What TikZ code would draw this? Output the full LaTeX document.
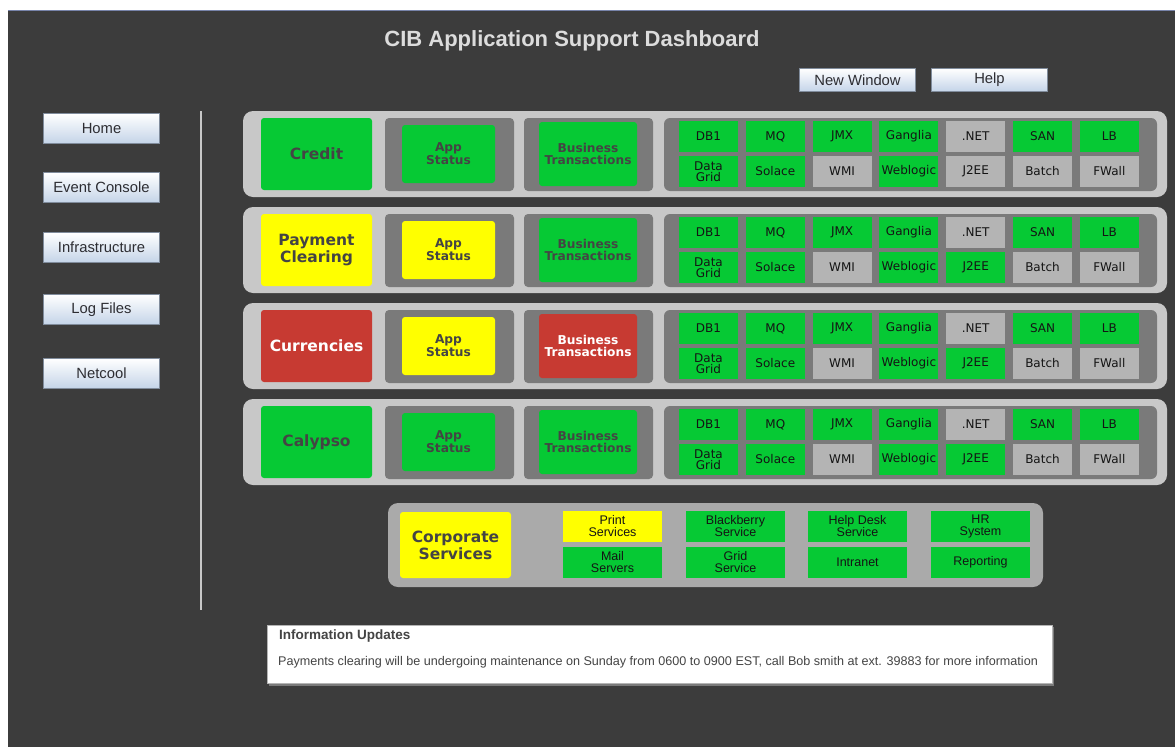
\documentclass[tikz,border=0pt]{standalone}
\usepackage{fontspec}
\setmainfont{Liberation Sans}
\newfontfamily\dv{DejaVu Sans}
\definecolor{bg}{RGB}{60,60,60}
\definecolor{gr}{RGB}{6,201,52}
\definecolor{yl}{RGB}{255,255,0}
\definecolor{rd}{RGB}{199,58,50}
\definecolor{lg}{RGB}{180,180,180}
\definecolor{rowout}{RGB}{200,200,200}
\definecolor{corpout}{RGB}{170,170,170}
\definecolor{cont}{RGB}{122,122,122}
\definecolor{labtext}{RGB}{68,68,68}
\definecolor{celltext}{RGB}{20,20,20}
\definecolor{btnblue}{RGB}{196,212,232}
\definecolor{btnborder}{RGB}{128,140,156}
\definecolor{btntext}{RGB}{45,45,50}
\definecolor{titletext}{RGB}{220,220,220}
\definecolor{topline}{RGB}{120,132,170}
\newcommand\labfont{\dv\bfseries\fontsize{15.5}{17}\selectfont}
\newcommand\smfont{\dv\bfseries\fontsize{12.2}{12.8}\selectfont}
\newcommand\cellfont{\dv\fontsize{12}{11.5}\selectfont}
\newcommand\corpfont{\fontsize{12.5}{12}\selectfont}
\newcommand\btnfont{\fontsize{14.8}{16}\selectfont}
\tikzset{
 box/.style={anchor=north west, inner sep=0pt, outer sep=0pt, rounded corners=3pt, align=center},
 cell/.style={box, rounded corners=0pt, minimum width=59pt, minimum height=31pt, font=\cellfont, text=celltext},
 ccell/.style={box, rounded corners=0pt, minimum width=99pt, minimum height=31pt, font=\corpfont, text=celltext},
 btn/.style={anchor=north west, inner sep=0pt, minimum width=116pt, draw=btnborder, line width=1pt, top color=white, bottom color=btnblue, font=\btnfont, text=btntext},
}
\newcommand\dashrow[9]{%
\begin{scope}[shift={(0,#2)}]
\node[box, fill=rowout, rounded corners=10pt, minimum width=924pt, minimum height=86pt] (#1-row) at (243,0) {};
\node[box, fill=#3, text=#4, font=\labfont, minimum width=111pt, minimum height=72pt] (#1) at (261,7) {#5};
\node[box, fill=cont, rounded corners=4pt, minimum width=129pt, minimum height=73pt] (#1-appc) at (385,7) {};
\node[box, fill=#6, text=#7, font=\smfont, minimum width=93pt, minimum height=58pt] (#1-app) at (402,14) {App\\Status};
\node[box, fill=cont, rounded corners=4pt, minimum width=129pt, minimum height=73pt] (#1-btc) at (524,7) {};
\node[box, fill=#8, text=#9, font=\smfont, minimum width=98pt, minimum height=64pt] (#1-bt) at (539,11) {Business\\Transactions};
\node[box, fill=cont, rounded corners=6pt, minimum width=493pt, minimum height=73pt] (#1-mc) at (664,7) {};
\foreach \i/\t/\c in {0/DB1/gr,1/MQ/gr,2/JMX/gr,3/Ganglia/gr,4/.NET/lg,5/SAN/gr,6/LB/gr}
  \node[cell, fill=\c] (#1-t\i) at ({679+\i*66.8},10) {\t};
\foreach \i/\t/\c in {0/{Data\\Grid}/gr,1/Solace/gr,2/WMI/lg,3/Weblogic/gr,4/J2EE/\jcol,5/Batch/lg,6/FWall/lg}
  \node[cell, fill=\c] (#1-b\i) at ({679+\i*66.8},45) {\t};
\end{scope}}
\begin{document}
\begin{tikzpicture}[x=1pt,y=-1pt]
\useasboundingbox (0,0) rectangle (1175,747);
\fill[white] (0,0) rectangle (1175,747);
\fill[bg] (8,10) rectangle (1175,747);
\draw[topline, line width=1pt] (8,10.5) -- (1175,10.5);
% title
\node[font=\bfseries\fontsize{22}{24}\selectfont, text=titletext] (title) at (572,41) {CIB Application Support Dashboard};
% top buttons
\node[btn, minimum height=23pt] (newwin) at (799,68) {New Window};
\node[btn, minimum height=23pt] (help) at (931,68) {Help};
% left buttons
\node[btn, minimum height=30pt] (home) at (43,113) {Home};
\node[btn, minimum height=30pt] (event) at (43,172) {Event Console};
\node[btn, minimum height=30pt] (infra) at (43,232) {Infrastructure};
\node[btn, minimum height=30pt] (logs) at (43,294) {Log Files};
\node[btn, minimum height=30pt] (netcool) at (43,358) {Netcool};
% separator
\draw[rowout, line width=1.5pt] (201,111) -- (201,610);
% rows
\def\jcol{lg}
\dashrow{credit}{111}{gr}{labtext}{Credit}{gr}{labtext}{gr}{labtext}
\def\jcol{gr}
\dashrow{payment}{207}{yl}{labtext}{Payment\\Clearing}{yl}{labtext}{gr}{labtext}
\dashrow{curr}{303}{rd}{white}{Currencies}{yl}{labtext}{rd}{white}
\dashrow{calypso}{399}{gr}{labtext}{Calypso}{gr}{labtext}{gr}{labtext}
% corporate services
\node[box, fill=corpout, rounded corners=10pt, minimum width=655pt, minimum height=84pt] (corp-row) at (388,503) {};
\node[box, fill=yl, text=labtext, font=\labfont, minimum width=111pt, minimum height=66pt] (corp) at (400,512) {Corporate\\Services};
\node[ccell, fill=yl] (print) at (563,511) {Print\\Services};
\node[ccell, fill=gr] (blackberry) at (686,511) {Blackberry\\Service};
\node[ccell, fill=gr] (helpdesk) at (808,511) {Help Desk\\Service};
\node[ccell, fill=gr] (hr) at (931,511) {HR\\System};
\node[ccell, fill=gr] (mail) at (563,547) {Mail\\Servers};
\node[ccell, fill=gr] (grid) at (686,547) {Grid\\Service};
\node[ccell, fill=gr] (intranet) at (808,547) {Intranet};
\node[ccell, fill=gr] (reporting) at (931,547) {Reporting};
% information updates
\fill[cont] (269,627) rectangle (1054,686);
\node[anchor=north west, fill=white, draw=lg, inner sep=0pt, minimum width=785pt, minimum height=58pt] (info) at (267,625) {};
\node[anchor=west, font=\bfseries\fontsize{13.5}{15}\selectfont, text=labtext, inner sep=0pt] (infotitle) at (279,636) {Information Updates};
\node[anchor=west, font=\fontsize{12.6}{14}\selectfont, text=labtext, inner sep=0pt] (infotext) at (278,662) {Payments clearing will be undergoing maintenance on Sunday from 0600 to 0900 EST, call Bob smith at ext. 39883 for more information};
\end{tikzpicture}
\end{document}
